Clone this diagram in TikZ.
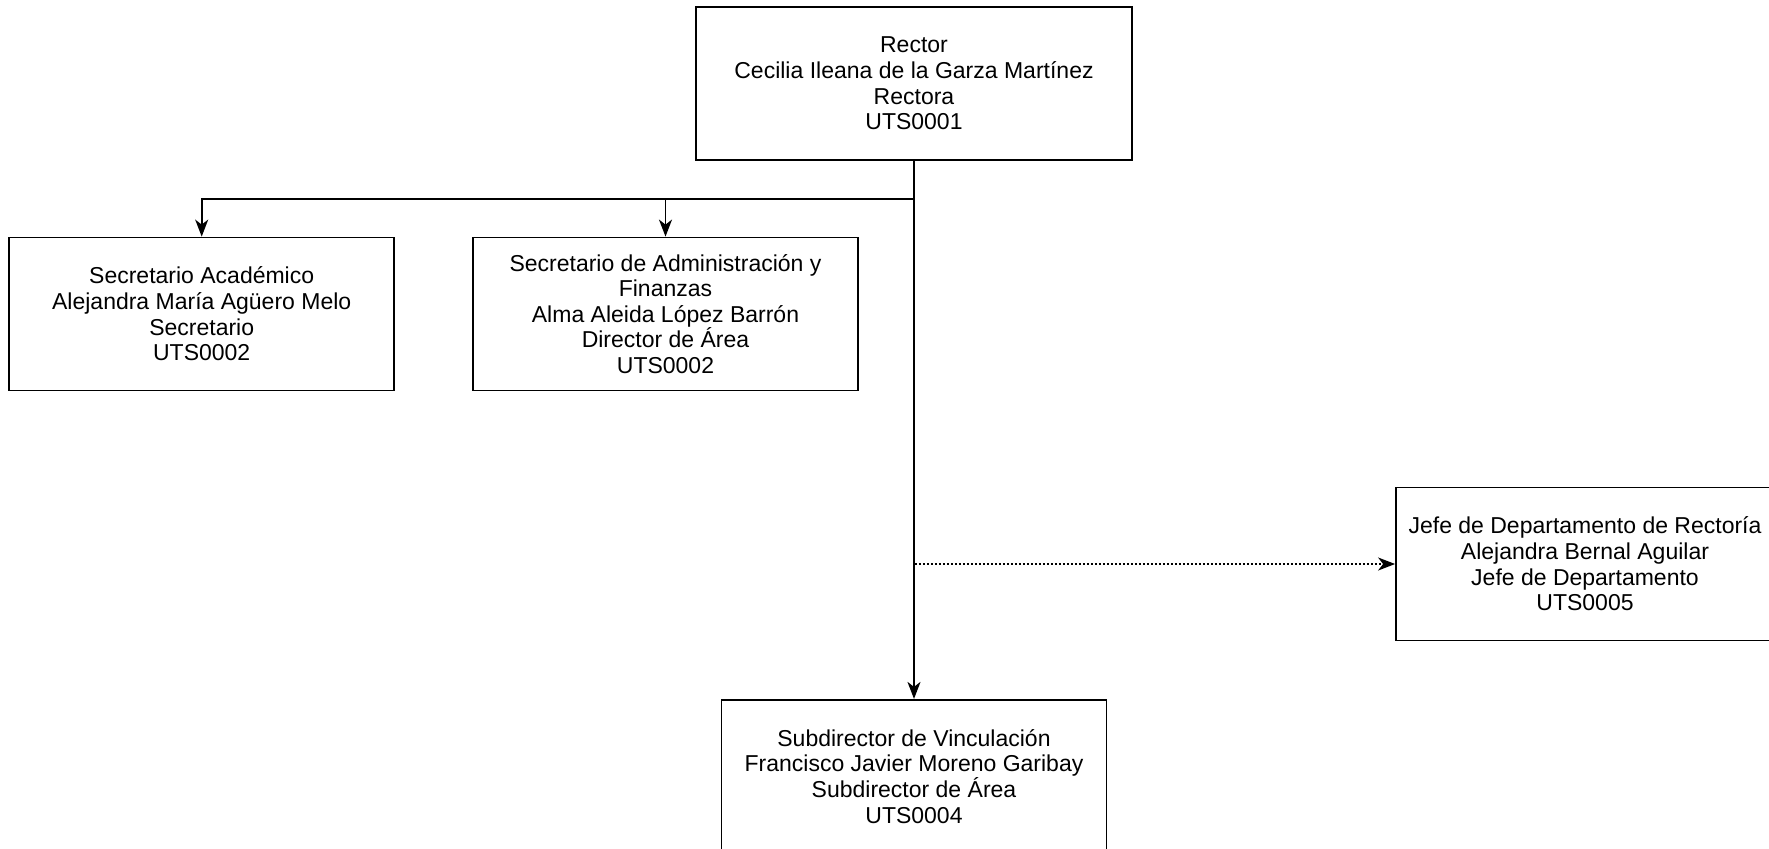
\documentclass[tikz,border=0pt]{standalone}
\usepackage{fontspec}
\setmainfont{Liberation Sans}
\usetikzlibrary{positioning,arrows.meta}

\begin{document}
\begin{tikzpicture}[
  x=0.5pt, y=-0.5pt,
  node distance=38.5pt and 38.5pt,
  puesto/.style={draw,line width=0.9pt,minimum width=192.5pt,minimum height=76.5pt,
    inner sep=0pt,align=center,font=\fontsize{11.5}{12.8}\selectfont},
  linea/.style={-{Stealth[length=8.5pt,width=6.5pt,inset=2.5pt]},line width=0.9pt}
]
\clip (0,0) rectangle (1769,848);

\node[puesto,minimum width=218pt] (rec) at (914,83.5) {Rector\\Cecilia Ileana de la Garza Martínez\\Rectora\\UTS0001};
\node[puesto,below=269pt of rec] (svi) {Subdirector de Vinculación\\Francisco Javier Moreno Garibay\\Subdirector de Área\\UTS0004};

\node[puesto] (saf) at (665.5,314) {Secretario de Administración y\\Finanzas\\Alma Aleida López Barrón\\Director de Área\\UTS0002};
\node[puesto,left=of saf] (sac) {Secretario Académico\\Alejandra María Agüero Melo\\Secretario\\UTS0002};

\node[puesto,minimum width=189pt] (jdr) at (1585,564) {Jefe de Departamento de Rectoría\\Alejandra Bernal Aguilar\\Jefe de Departamento\\UTS0005};

\coordinate (fork) at (914,199);

% lineas de mando
\draw[linea] (rec.south) -- (svi.north);
\draw[linea] (fork) -| (saf.north);
\draw[linea] (fork) -| (sac.north);

% apoyo
\draw[linea,dash pattern=on 1pt off 1pt] (rec.south) |- (jdr.west);

\end{tikzpicture}
\end{document}
